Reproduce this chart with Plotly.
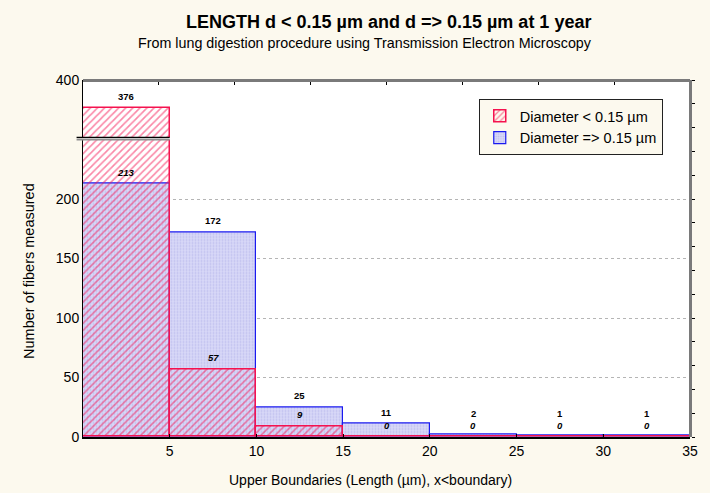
import plotly.graph_objects as go

# ---- data ----
upper_bounds = [5, 10, 15, 20, 25, 30, 35]
bin_width = 5
small_d = [376, 57, 9, 0, 0, 0, 0]        # Diameter < 0.15 µm
large_d = [213, 172, 25, 11, 2, 1, 1]     # Diameter => 0.15 µm
x_ticks = [5, 10, 15, 20, 25, 30, 35]
y_low_ticks = [0, 50, 100, 150, 200, 250]
y_low_labels = ["0", "50", "100", "150", "200", ""]
y_high_ticks = [400]

title = "<b>LENGTH d < 0.15 µm and d => 0.15 µm at 1 year</b>"
subtitle = "From lung digestion procedure using Transmission Electron Microscopy"
x_title = "Upper Boundaries (Length (µm), x<boundary)"
y_title = "Number of fibers measured"
name_small = "Diameter < 0.15 µm"
name_large = "Diameter => 0.15 µm"

LOW_MAX = 250
HIGH_MIN, HIGH_MAX = 350, 400
X_MAX = 35

CREAM = "#FCF9EE"
RED = "#F5124F"
BLUE = "#1A1AF0"
FONT = "Arial, Liberation Sans, sans-serif"

low_dom = [0, 0.8333]
high_dom = [0.8395, 1]

blue_marker = dict(color="#D9D9F8", line=dict(color=BLUE, width=1.2),
                   pattern=dict(shape=".", fgcolor="#A5A5E4", bgcolor="#D9D9F8",
                                size=3, solidity=0.35))
red_marker = dict(color="rgba(0,0,0,0)", line=dict(color=RED, width=1.5),
                  pattern=dict(shape="/", fgcolor=RED, bgcolor="rgba(0,0,0,0)",
                               size=5, solidity=0.33, fillmode="overlay"))

fig = go.Figure()
for ya, show in (("y", True), ("y2", False)):
    fig.add_trace(go.Bar(x=upper_bounds, y=large_d, width=bin_width, offset=-bin_width,
                         name=name_large, marker=blue_marker, xaxis="x", yaxis=ya,
                         showlegend=show, legendrank=2))
    fig.add_trace(go.Bar(x=upper_bounds, y=small_d, width=bin_width, offset=-bin_width,
                         name=name_small, marker=red_marker, xaxis="x", yaxis=ya,
                         showlegend=show, legendrank=1))

# frame axes (top and right with their own tick spacing)
fig.add_trace(go.Scatter(x=[], y=[], xaxis="x3", yaxis="y3", showlegend=False))

# ---- value labels ----
annotations = []
for b, s, l in zip(upper_bounds, small_d, large_d):
    xc = b - bin_width / 2
    hi, lo = max(s, l), min(s, l)
    hi_y = max(hi, lo + 10)
    for val, yv, ital in ((hi, hi_y, False), (lo, lo, True)):
        txt = f"<b>{val}</b>" if not ital else f"<b><i>{val}</i></b>"
        yref = "y2" if yv > LOW_MAX else "y"
        annotations.append(dict(x=xc, y=yv, xref="x", yref=yref, text=txt,
                                showarrow=False, yanchor="bottom", yshift=4,
                                font=dict(size=9.5, color="black", family=FONT)))

annotations += [
    dict(text=title, x=0.503, y=1.162, xref="paper", yref="paper", showarrow=False,
         font=dict(size=18, color="black", family=FONT), yanchor="middle"),
    dict(text=subtitle, x=0.465, y=1.104, xref="paper", yref="paper", showarrow=False,
         font=dict(size=14.3, color="black", family=FONT), yanchor="middle"),
    dict(text=x_title, x=0.473, y=-0.120, xref="paper", yref="paper", showarrow=False,
         font=dict(size=14, color="black", family=FONT), yanchor="middle"),
    dict(text=y_title, x=-0.089, y=0.465, xref="paper", yref="paper", showarrow=False,
         textangle=-90, font=dict(size=14.5, color="black", family=FONT),
         xanchor="center", yanchor="middle"),
]

# plot background and axis break marks
brk_x1 = upper_bounds[0] / X_MAX
shapes = [
    dict(type="rect", xref="paper", yref="paper", x0=0, x1=1, y0=0, y1=1,
         fillcolor="white", line=dict(width=0), layer="below"),
    dict(type="line", xref="paper", yref="paper", x0=-0.0106, x1=brk_x1,
         y0=high_dom[0], y1=high_dom[0], line=dict(color="black", width=1.2)),
    dict(type="line", xref="paper", yref="paper", x0=-0.0106, x1=brk_x1,
         y0=low_dom[1], y1=low_dom[1], line=dict(color="#909090", width=2)),
]

fig.update_layout(
    width=710, height=493,
    margin=dict(l=82.5, r=15, t=80, b=56),
    paper_bgcolor=CREAM, plot_bgcolor="rgba(0,0,0,0)",
    barmode="overlay", bargap=0,
    font=dict(family=FONT, size=14, color="black"),
    annotations=annotations, shapes=shapes,
    legend=dict(x=0.652, y=0.947, xanchor="left", yanchor="top",
                bgcolor=CREAM, bordercolor="#222222", borderwidth=1,
                font=dict(size=14.5, family=FONT), tracegroupgap=0,
                itemwidth=30),
    xaxis=dict(domain=[0, 1], range=[0, X_MAX], anchor="y", tickvals=x_ticks,
               ticks="inside", ticklen=3, tickcolor="black", showline=True,
               linecolor="black", linewidth=2, showgrid=False, zeroline=False,
               tickfont=dict(size=14)),
    yaxis=dict(domain=low_dom, range=[0, LOW_MAX], anchor="x", tickvals=y_low_ticks,
               ticktext=y_low_labels, showgrid=True, gridcolor="#B5B5B5",
               griddash="dot", gridwidth=1, showline=True, linecolor="black",
               linewidth=1, ticks="", zeroline=False, tickfont=dict(size=14)),
    yaxis2=dict(domain=high_dom, range=[HIGH_MIN, HIGH_MAX], anchor="x",
                tickvals=y_high_ticks, showgrid=False, showline=True,
                linecolor="black", linewidth=1, ticks="", zeroline=False,
                tickfont=dict(size=14)),
    xaxis3=dict(domain=[0, 1], range=[0, 8], dtick=1, anchor="free", position=1,
                side="top", showticklabels=False, ticks="inside", ticklen=3,
                tickcolor="black", showline=True, linecolor="#7A7A7A", linewidth=3,
                showgrid=False, zeroline=False),
    yaxis3=dict(domain=[0, 1], range=[0, 15], dtick=1, anchor="free", position=1,
                side="right", showticklabels=False, ticks="outside", ticklen=3,
                tickcolor="black", showline=True, linecolor="#7A7A7A", linewidth=3,
                showgrid=False, zeroline=False),
)

fig.write_html("out.html")
